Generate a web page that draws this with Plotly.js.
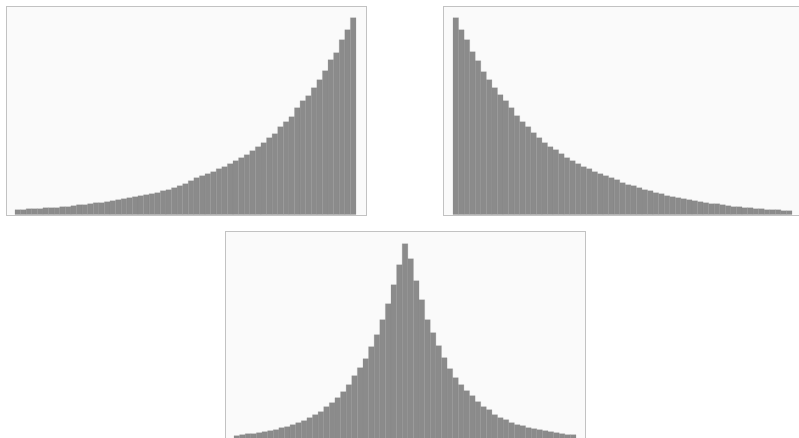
<!DOCTYPE html>
<html>
<head>
<meta charset="utf-8">
<script src="https://cdn.plot.ly/plotly-3.0.1.min.js"></script>
<style>html,body{margin:0;padding:0;background:#fff;}#chart{width:799px;height:438px;}</style>
</head>
<body>
<div id="chart"></div>
<script>
// bin index (61 histogram bins per panel)
const bins = Array.from({length: 61}, (_, i) => i);

// top-left: rising exponential histogram (left -> right)
const risingCounts = [5,5,6,6,6,7,7,7,8,8,9,10,10,11,12,12,13,14,15,16,17,18,19,20,21,22,24,25,27,29,
  31,34,37,39,41,43,46,48,51,54,57,60,64,68,72,77,81,88,93,98,107,114,119,127,135,144,155,162,175,185,197];

// top-right: falling exponential histogram (left -> right)
const fallingCounts = [197,185,175,163,154,143,135,127,120,114,107,99,93,88,82,77,72,68,65,61,57,54,51,48,46,43,41,39,37,35,32,
  30,29,27,25,24,22,21,19,18,17,16,15,14,13,12,11,11,10,9,8,8,7,7,6,6,5,5,5,4,4];

// bottom: two-sided (Laplace-like) histogram (left -> right)
const laplaceCounts = [4,5,6,6,7,8,9,10,12,13,15,17,19,22,25,28,33,37,42,48,55,64,72,81,93,105,120,136,155,175,
  196,
  181,159,140,120,107,94,82,71,62,55,49,44,38,33,30,25,22,20,17,15,14,12,11,10,9,8,7,6,5,5];

const barColor = '#8b8b8b';
function bar(y, xa, ya) {
  return {type: 'bar', x: bins, y: y, xaxis: xa, yaxis: ya,
    marker: {color: barColor, line: {color: '#878787', width: 0.2}},
    hoverinfo: 'skip', showlegend: false};
}
const data = [
  bar(risingCounts, 'x', 'y'),
  bar(fallingCounts, 'x2', 'y2'),
  bar(laplaceCounts, 'x3', 'y3')
];

const W = 799, H = 438;
function ax(extra) {
  return Object.assign({showgrid: false, zeroline: false, showticklabels: false, ticks: '',
    showline: true, mirror: true, linecolor: '#c2c2c2', linewidth: 1, fixedrange: true}, extra);
}
const layout = {
  width: W, height: H,
  margin: {l: 0, r: 0, t: 0, b: 0},
  paper_bgcolor: '#ffffff',
  plot_bgcolor: '#fafafa',
  bargap: 0,
  showlegend: false,
  xaxis:  ax({domain: [7/W, 366/W], range: [-1.93, 62.29], anchor: 'y'}),
  yaxis:  ax({domain: [1 - 214.7/H, 1 - 6.7/H], range: [0, 208], anchor: 'x'}),
  xaxis2: ax({domain: [444/W, 1], range: [-2.12, 61.76], anchor: 'y2'}),
  yaxis2: ax({domain: [1 - 214.7/H, 1 - 6.7/H], range: [0, 208], anchor: 'x2', mirror: false}),
  xaxis3: ax({domain: [226/W, 585/W], range: [-1.93, 62.1], anchor: 'y3'}),
  yaxis3: ax({domain: [0, 1 - 231.7/H], range: [1.7, 208], anchor: 'x3'})
};
Plotly.newPlot('chart', data, layout, {staticPlot: true, displayModeBar: false});
</script>
</body>
</html>
